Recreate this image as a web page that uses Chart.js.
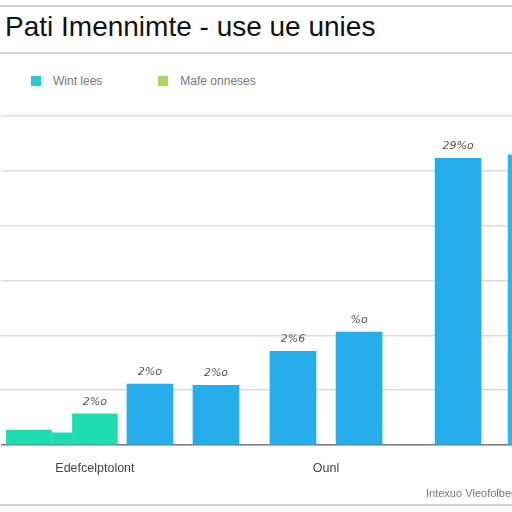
<!DOCTYPE html>
<html>
<head>
<meta charset="utf-8">
<script src="https://cdn.jsdelivr.net/npm/chart.js@4/dist/chart.umd.min.js"></script>
<style>
    body { margin: 0; width: 512px; height: 512px; overflow: hidden; position: relative; background: #fff; font-family: "Liberation Sans", Arial, sans-serif; }
    .linea { position: absolute; left: 0; width: 512px; height: 2px; background: #d4d4d4; }
    #titulo { position: absolute; left: 5px; top: 13px; font-size: 28px; line-height: 28px; color: #111; white-space: nowrap; }
    #leyenda { position: absolute; top: 74px; left: 31px; font-size: 12px; color: #777; white-space: nowrap; }
    #leyenda span.caja { display: inline-block; width: 10px; height: 10px; vertical-align: -1px; margin-right: 12px; }
    #leyenda span.item { margin-right: 56px; }
    #contenedor { position: absolute; left: -9.5px; top: 100px; width: 560px; height: 390px; }
    #pie { position: absolute; left: 426px; top: 487px; font-size: 11px; color: #777; white-space: nowrap; }
</style>
</head>
<body>
<div class="linea" style="top:5px"></div>
<div id="titulo"></div>
<div class="linea" style="top:52px"></div>
<div id="leyenda"></div>
<div id="contenedor"><canvas id="canvasGrafica"></canvas></div>
<div id="pie"></div>
<div class="linea" style="top:504px"></div>
<script>
var titulo = "Pati Imennimte - use ue unies";
var pieTexto = "Intexuo Vleofolber";
var leyendaTextos = ["Wint lees", "Mafe onneses"];
var leyendaColores = ["#2ec5d9", "#a6d85c"];

// 49 narrow slots, most of them empty, so the bars keep their irregular spacing
var categorias = [
    "", "", "", "", "", "", "", "", "Edefcelptolont", "", "",
    "", "", "", "", "", "", "", "", "", "", "",
    "", "", "", "", "", "", "", "Ounl", "", "",
    "", "", "", "", "", "", "", "", "", "", "",
    "", "", "", "", "", ""
];

var verdes = [
    null, null, 0.27, null, null, null, null, null, 0.57, null, null,
    null, null, null, null, null, null, null, null, null, null, null,
    null, null, null, null, null, null, null, null, null, null, null,
    null, null, null, null, null, null, null, null, null, null, null,
    null, null, null, null, null
];

var verdesEscalon = [
    null, null, null, null, null, 0.22, null, null, null, null, null,
    null, null, null, null, null, null, null, null, null, null, null,
    null, null, null, null, null, null, null, null, null, null, null,
    null, null, null, null, null, null, null, null, null, null, null,
    null, null, null, null, null
];

var azules = [
    null, null, null, null, null, null, null, null, null, null, null,
    null, null, 1.11, null, null, null, null, null, 1.09, null, null,
    null, null, null, null, 1.71, null, null, null, null, null, 2.06,
    null, null, null, null, null, null, null, null, 5.23, null, null,
    null, null, null, null, null
];

// last bar, only its left edge shows at the right border
var azulesBorde = [
    null, null, null, null, null, null, null, null, null, null, null,
    null, null, null, null, null, null, null, null, null, null, null,
    null, null, null, null, null, null, null, null, null, null, null,
    null, null, null, null, null, null, null, null, null, null, null,
    null, null, null, null, 5.29
];

var etiquetas = [
    "", "", "", "", "", "", "", "", "2%o", "", "",
    "", "", "2%o", "", "", "", "", "", "2%o", "", "",
    "", "", "", "", "2%6", "", "", "", "", "", "%o",
    "", "", "", "", "", "", "", "", "29%o", "", "",
    "", "", "", "", ""
];

document.addEventListener("DOMContentLoaded", function () {
    document.getElementById("titulo").textContent = titulo;
    document.getElementById("pie").textContent = pieTexto;

    var leyenda = document.getElementById("leyenda");
    for (let i = 0; i < leyendaTextos.length; i++) {
        leyenda.innerHTML += '<span class="item"><span class="caja" style="background:' + leyendaColores[i] + '"></span>' + leyendaTextos[i] + '</span>';
    }

    var etiquetasPlugin = {
        id: "etiquetasPlugin",
        afterDatasetsDraw: function (chart) {
            var ctx = chart.ctx;
            ctx.save();
            ctx.font = "italic 11px 'DejaVu Sans', sans-serif";
            ctx.fillStyle = "#555";
            ctx.textAlign = "center";
            ctx.textBaseline = "middle";
            chart.data.datasets.forEach(function (ds, d) {
                if (d === 1) return;
                var meta = chart.getDatasetMeta(d);
                meta.data.forEach(function (bar, i) {
                    if (ds.data[i] === null || !etiquetas[i]) return;
                    ctx.fillText(etiquetas[i], bar.x, bar.y - 12);
                });
            });
            ctx.restore();
        }
    };

    var canvasGrafica = document.getElementById("canvasGrafica");
    var miGrafica = new Chart(canvasGrafica, {
        type: "bar",
        data: {
            labels: categorias,
            datasets: [{
                label: leyendaTextos[1],
                data: verdes,
                backgroundColor: "#1edbb0",
                barThickness: 45
            }, {
                label: "escalon",
                data: verdesEscalon,
                backgroundColor: "#1edbb0",
                barThickness: 20
            }, {
                label: leyendaTextos[0],
                data: azules,
                backgroundColor: "#25adec",
                barThickness: 46
            }, {
                label: "borde",
                data: azulesBorde,
                backgroundColor: "#2bb6ef",
                barThickness: 54
            }]
        },
        plugins: [etiquetasPlugin],
        options: {
            responsive: true,
            maintainAspectRatio: false,
            animation: false,
            grouped: false,
            layout: { padding: { top: 16, left: 0, right: 0, bottom: 0 } },
            plugins: {
                legend: { display: false },
                title: { display: false },
                tooltip: { enabled: false }
            },
            scales: {
                x: {
                    grid: { display: false, drawTicks: false },
                    border: { display: true, color: "#7a7a7a", width: 1.5 },
                    ticks: {
                        autoSkip: false,
                        maxRotation: 0,
                        minRotation: 0,
                        padding: 16,
                        color: "#444",
                        font: { family: "'Liberation Sans', sans-serif", size: 12.5 }
                    },
                    afterFit: function (axis) { axis.height = 45; }
                },
                y: {
                    min: 0,
                    max: 6,
                    ticks: { display: false, stepSize: 1 },
                    grid: { color: "#dcdcdc", lineWidth: 1.5, drawTicks: false },
                    border: { display: false },
                    afterFit: function (axis) { axis.width = 0; }
                }
            }
        }
    });
});
</script>
</body>
</html>
